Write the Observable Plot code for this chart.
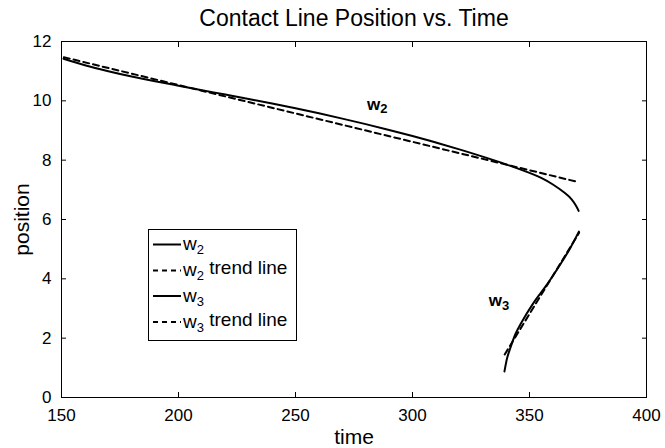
<!DOCTYPE html>
<html>
<head>
<meta charset="utf-8">
<script src="https://cdn.jsdelivr.net/npm/d3@7"></script>
<script src="https://cdn.jsdelivr.net/npm/@observablehq/plot@0.6"></script>
<style>
  body { margin: 0; background: white; }
  #wrap { position: relative; width: 665px; height: 448px; background: white; }
  #legend { position: absolute; left: 148px; top: 229px; }
</style>
</head>
<body>
<div id="wrap"></div>
<script>
// ---- data ----
const titleText = "Contact Line Position vs. Time";
const xLabel = "time";
const yLabel = "position";
const xTicks = [150, 200, 250, 300, 350, 400];
const yTicks = [0, 2, 4, 6, 8, 10, 12];

const w2Time = [150.85, 160, 170, 180, 190, 200, 210, 220, 230, 240, 250, 260, 270, 280, 290, 300, 310, 320, 330, 340, 350, 355, 360, 365, 368, 370, 371];
const w2Pos  = [11.42, 11.20, 11.0, 10.82, 10.66, 10.51, 10.36, 10.21, 10.06, 9.91, 9.75, 9.58, 9.40, 9.215, 9.02, 8.815, 8.595, 8.365, 8.12, 7.86, 7.57, 7.40, 7.18, 6.90, 6.68, 6.45, 6.29];

const w2TrendTime = [151, 370.4];
const w2TrendPos  = [11.47, 7.27];

const w3Time = [339.3, 340.5, 341.9, 344.0, 346.2, 351.8, 357.6, 363.2, 367.5, 371.1];
const w3Pos  = [0.88, 1.35, 1.69, 2.14, 2.48, 3.2, 3.82, 4.49, 5.05, 5.59];

const w3TrendTime = [339.4, 371.2];
const w3TrendPos  = [1.45, 5.55];

const curveLabelNames = ["w", "w"];
const curveLabelSubs  = ["2", "3"];
const curveLabelTime  = [280.6, 332.6];
const curveLabelPos   = [9.89, 3.26];

const legendNames  = ["w", "w", "w", "w"];
const legendSubs   = ["2", "2", "3", "3"];
const legendSuffix = ["", " trend line", "", " trend line"];
const legendDashed = [false, true, false, true];

// ---- tables ----
const toRows = (ts, ps) => ts.map((t, i) => ({t, p: ps[i]}));
const w2 = toRows(w2Time, w2Pos);
const w2Trend = toRows(w2TrendTime, w2TrendPos);
const w3 = toRows(w3Time, w3Pos);
const w3Trend = toRows(w3TrendTime, w3TrendPos);
const labels = curveLabelTime.map((t, i) => ({t, p: curveLabelPos[i], name: curveLabelNames[i], sub: curveLabelSubs[i]}));

const FONT = "'Liberation Sans', Arial, Helvetica, sans-serif";
const dash = "6,4";

const chart = Plot.plot({
  width: 665,
  height: 448,
  marginTop: 41,
  marginBottom: 51,
  marginLeft: 61,
  marginRight: 19,
  x: {domain: [150, 400]},
  y: {domain: [0, 12]},
  style: {fontFamily: FONT, fontSize: "17px", color: "black", background: "white", overflow: "visible"},
  marks: [
    Plot.axisX(xTicks, {anchor: "bottom", tickSize: -5, tickPadding: 16, label: null, fontSize: 17}),
    Plot.axisX(xTicks, {anchor: "top", tickSize: -5, tickFormat: () => "", label: null}),
    Plot.axisY(yTicks, {anchor: "left", tickSize: -5, tickPadding: 15, label: null, fontSize: 17}),
    Plot.axisY(yTicks, {anchor: "right", tickSize: -5, tickFormat: () => "", label: null}),
    Plot.frame({stroke: "black", strokeWidth: 1}),
    Plot.line(w2Trend, {x: "t", y: "p", stroke: "black", strokeWidth: 2, strokeDasharray: dash}),
    Plot.line(w2, {x: "t", y: "p", stroke: "black", strokeWidth: 2, curve: "natural"}),
    Plot.line(w3Trend, {x: "t", y: "p", stroke: "black", strokeWidth: 2, strokeDasharray: dash}),
    Plot.line(w3, {x: "t", y: "p", stroke: "black", strokeWidth: 2, curve: "catmull-rom"}),
    Plot.text(labels, {x: "t", y: "p", text: "name", textAnchor: "start", fontWeight: "bold", fontSize: 17, fill: "black", ariaLabel: () => "curvelabel"}),
    Plot.text([titleText], {frameAnchor: "top", lineAnchor: "middle", dy: -23, fontSize: 23, fill: "black"}),
    Plot.text([xLabel], {frameAnchor: "bottom", lineAnchor: "middle", dy: 40, fontSize: 21, fill: "black"}),
    Plot.text([yLabel], {frameAnchor: "left", textAnchor: "middle", lineAnchor: "middle", dx: -39, rotate: -90, fontSize: 21, fill: "black"})
  ]
});

// subscripts on the curve labels
d3.select(chart).selectAll('text[aria-label="curvelabel"]').each(function(d, i) {
  d3.select(this).append("tspan").attr("dy", "0.3em").attr("font-size", "13").text(labels[i].sub);
});

document.getElementById("wrap").appendChild(chart);

// legend
const lw = 149, lh = 112;
const rowY = [15.5, 41.5, 67, 93];
const leg = d3.select("#wrap").append("svg")
  .attr("id", "legend")
  .attr("width", lw).attr("height", lh)
  .style("font-family", FONT);
leg.append("rect").attr("x", 0.5).attr("y", 0.5).attr("width", lw - 1).attr("height", lh - 1)
  .attr("fill", "white").attr("stroke", "black").attr("stroke-width", 1);
legendNames.forEach((n, i) => {
  const y = rowY[i];
  leg.append("line").attr("x1", 5).attr("x2", 33).attr("y1", y).attr("y2", y)
    .attr("stroke", "black").attr("stroke-width", 2)
    .attr("stroke-dasharray", legendDashed[i] ? "5,4" : null);
  const t = leg.append("text").attr("x", 35).attr("y", y).attr("dy", "0.3em")
    .attr("font-size", 19).attr("fill", "black");
  t.append("tspan").text(n);
  t.append("tspan").attr("dy", "0.3em").attr("font-size", 13).text(legendSubs[i]);
  if (legendSuffix[i]) t.append("tspan").attr("dy", "-0.3em").text(legendSuffix[i]);
});
</script>
</body>
</html>
